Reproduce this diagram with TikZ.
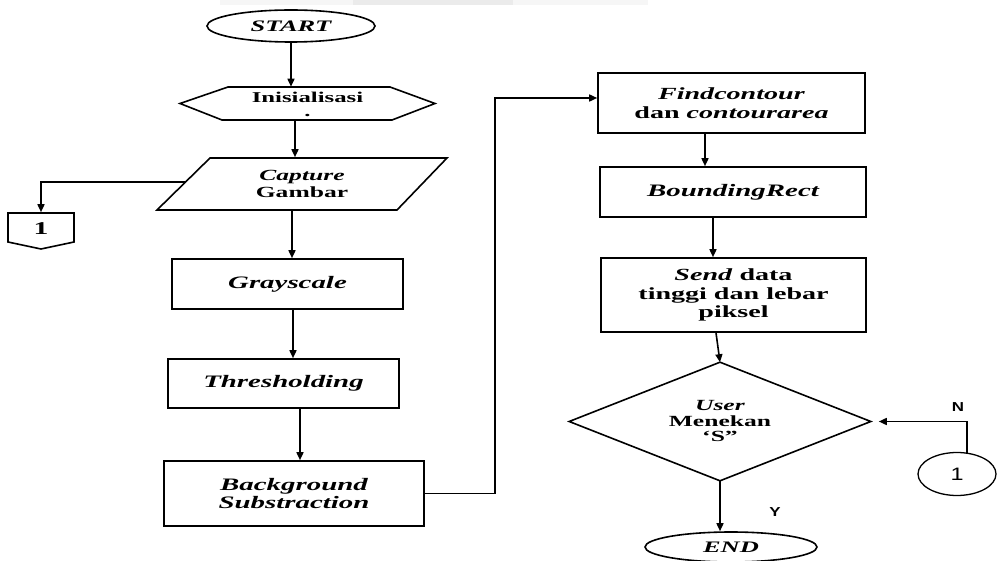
\documentclass[tikz,border=0pt]{standalone}
\usepackage{fontspec}
\setmainfont{Liberation Serif}
\newfontfamily\boxfont{Liberation Serif}[FakeStretch=1.65]
\newfontfamily\lblfont{Liberation Sans}[FakeStretch=1.3]
\usetikzlibrary{arrows.meta,shapes.geometric}
\begin{document}
\begin{tikzpicture}[x=1pt,y=-1pt,line width=1.6pt,
  proc/.style={draw,rectangle,inner sep=0pt,align=center,font=\boxfont\bfseries\fontsize{17}{18.5}\selectfont},
  holder/.style={rectangle,inner sep=0pt,align=center,font=\boxfont\bfseries\fontsize{15}{16}\selectfont},
  term/.style={draw,ellipse,inner sep=0pt,font=\boxfont\bfseries\itshape\fontsize{16}{18}\selectfont},
  arr/.style={-{Triangle[length=8pt,width=7pt]}},
  lbl/.style={font=\lblfont\bfseries\fontsize{13}{14}\selectfont}]
\useasboundingbox (0,0) rectangle (997,561);
% faint band at the top
\fill[gray!7] (220,0) rectangle (648,5);
\fill[gray!16] (353,0) rectangle (513,5);

% left column
\node[term,minimum width=168,minimum height=32] (start) at (291,26) {START};

\node[holder,minimum width=255,minimum height=33,font=\boxfont\bfseries\fontsize{15}{13}\selectfont] (init) at (307.5,104) {Inisialisasi\\[1pt].};
\draw (180,103.5) -- (228,87) -- (390,87) -- (435,103.5) -- (392,120) -- (222,120) -- cycle;

\node[holder,minimum width=240,minimum height=52,font=\boxfont\bfseries\fontsize{15.5}{17}\selectfont] (cap) at (302,184) {\textit{Capture}\\Gambar};
\draw (210,158) -- (447,158) -- (397,210) -- (157,210) -- cycle;
\coordinate (capL) at (185.5,182);

\node[rectangle,inner sep=0pt,minimum width=66,minimum height=32,font=\boxfont\bfseries\fontsize{18}{18}\selectfont] (off1) at (41,229) {1};
\draw (8,213) -- (74,213) -- (74,242) -- (41,249) -- (8,242) -- cycle;

\node[proc,minimum width=231,minimum height=50,font=\boxfont\bfseries\itshape\fontsize{17.5}{18.5}\selectfont] (gray) at (287.5,284) {Grayscale};
\node[proc,minimum width=231,minimum height=49,font=\boxfont\bfseries\itshape\fontsize{17.5}{18.5}\selectfont] (thr) at (283.5,383.5) {Thresholding};
\node[proc,minimum width=260,minimum height=65,font=\boxfont\bfseries\itshape\fontsize{17.5}{18.5}\selectfont] (bg) at (294,493.5) {Background\\Substraction};

% right column
\node[proc,minimum width=267,minimum height=60] (find) at (731.5,103) {\textit{Findcontour}\\dan \textit{contourarea}};
\node[proc,minimum width=266,minimum height=50,font=\boxfont\bfseries\itshape\fontsize{17.5}{18.5}\selectfont] (bound) at (733,192) {BoundingRect};
\node[proc,minimum width=265,minimum height=74] (send) at (733.5,295) {\textit{Send} data\\tinggi dan lebar\\piksel};

\node[holder,minimum width=300,minimum height=117,font=\boxfont\bfseries\fontsize{15.5}{15.5}\selectfont] (dia) at (720,421.5) {\textit{User}\\Menekan\\‘S”};
\draw (dia.west) -- (dia.north) -- (dia.east) -- (dia.south) -- cycle;

\node[term,minimum width=172,minimum height=30] (end) at (731,547) {END};

\node[draw,ellipse,inner sep=0pt,minimum width=78,minimum height=43,line width=1.3pt,font=\lblfont\fontsize{18}{18}\selectfont] (c1) at (957,474) {1};

\node[lbl] (nlab) at (958,407) {N};
\node[lbl] (ylab) at (775,512) {Y};

% connectors
\draw[arr] (start.south) -- (start.south |- init.north);
\draw[arr] ([xshift=-12.5pt]init.south) -- ([xshift=-12.5pt]init.south |- cap.north);
\draw[arr] (capL) -| (off1.north);
\draw[arr] ([xshift=-10pt]cap.south) -- ([xshift=-10pt]cap.south |- gray.north);
\draw[arr] ([xshift=5.5pt]gray.south) -- ([xshift=5.5pt]gray.south |- thr.north);
\draw[arr] ([xshift=16.5pt]thr.south) -- ([xshift=16.5pt]thr.south |- bg.north);
\coordinate (bend) at (495,493.5);
\draw[arr] (bg.east) -- (bend) |- ([yshift=5pt]find.west);
\draw[arr] ([xshift=-26.5pt]find.south) -- ([xshift=-26.5pt]find.south |- bound.north);
\draw[arr] ([xshift=-20pt]bound.south) -- ([xshift=-20pt]bound.south |- send.north);
\draw[arr] ([xshift=-17.5pt]send.south) -- (dia.north);
\draw[arr] (dia.south) -- (dia.south |- end.north);
\draw[arr,shorten >=8pt] (c1.65) |- (dia.east);
\end{tikzpicture}
\end{document}
